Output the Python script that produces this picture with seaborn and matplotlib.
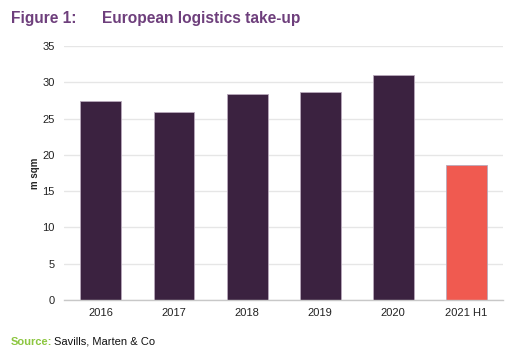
import pandas as pd
import seaborn as sns
import matplotlib.pyplot as plt
import numpy as np

# Datos
years = ["2016", "2017", "2018", "2019", "2020", "2021 H1"]
take_up = [27.4, 25.9, 28.4, 28.7, 31.0, 18.6]
bar_colors = ["#3b2240"] * 5 + ["#f05a50"]

df = pd.DataFrame({"year": years, "take_up": take_up})

sns.set_theme(style="white")
plt.rcParams["font.family"] = ["Liberation Sans", "DejaVu Sans"]

fig = plt.figure(figsize=(5.19, 3.57), dpi=100)
ax = fig.add_axes([0.124, 0.16, 0.845, 0.711])

sns.barplot(
    data=df, x="year", y="take_up", hue="year", palette=bar_colors,
    width=0.56, legend=False, ax=ax, saturation=1,
    edgecolor="#b8a9bb", linewidth=0.6,
)

ax.set_ylim(0, 35)
ax.set_yticks(np.arange(0, 36, 5))
ax.set_xlim(-0.5, len(years) - 0.5)
ax.yaxis.grid(True, color="#e6e6e6", linewidth=1)
ax.set_axisbelow(True)
for side in ["top", "right", "left"]:
    ax.spines[side].set_visible(False)
ax.spines["bottom"].set_color("#c8c8c8")
ax.spines["bottom"].set_linewidth(1)

# ticks del eje x entre categorías
ax.set_xticks(np.arange(len(years)))
ax.set_xticklabels(years)
ax.set_xticks(np.arange(-0.5, len(years)), minor=True)
ax.tick_params(axis="x", which="major", length=0, labelsize=8, pad=6, colors="#222222")
ax.tick_params(axis="x", which="minor", length=4, color="#c8c8c8", width=1, direction="out")
ax.tick_params(axis="y", length=0, labelsize=8, pad=7, colors="#222222")

ax.set_xlabel("")
ax.set_ylabel("m sqm", fontsize=7, fontweight="bold", labelpad=1.5)

fig.text(0.021, 0.935, "Figure 1:", fontsize=11.2, fontweight="bold", color="#6e3f7c")
fig.text(0.197, 0.935, "European logistics take-up", fontsize=11.2, fontweight="bold", color="#6e3f7c")
fig.text(0.021, 0.035, "Source:", fontsize=8, fontweight="bold", color="#8cc63f")
fig.text(0.105, 0.035, "Savills, Marten & Co", fontsize=8, color="#111111")

fig.savefig("out.png", dpi=100)
